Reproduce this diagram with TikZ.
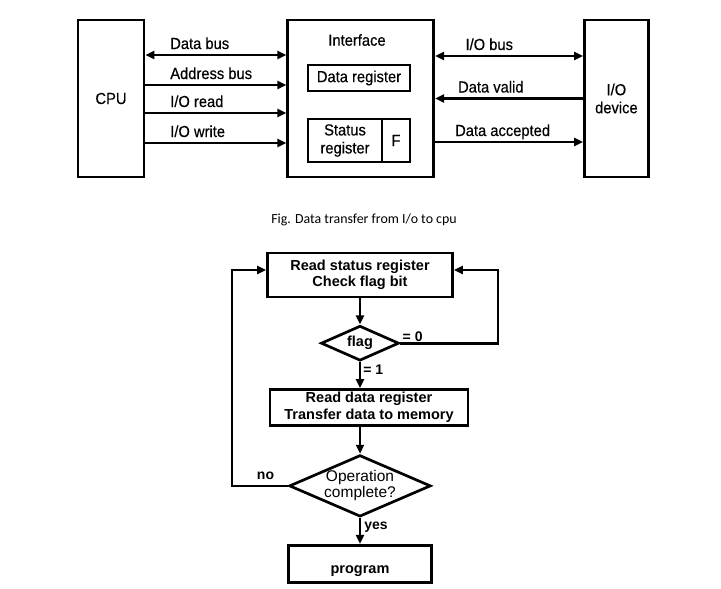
\documentclass[tikz,border=0pt]{standalone}
\usepackage{fontspec}
\setmainfont{Liberation Sans}
\newfontfamily\narrowfont{Liberation Sans}[FakeStretch=0.92, FakeBold=0.4]
\newfontfamily\capfont{Carlito}
\usetikzlibrary{positioning, arrows.meta, shapes.geometric}

\begin{document}
\begin{tikzpicture}[x=1pt, y=-1pt, >={Triangle[length=9pt, width=8pt]}, line width=2.7pt,
    box/.style={draw, inner sep=0pt, align=center, font=\narrowfont\fontsize{16}{18}\selectfont},
    flowbox/.style={box, font=\bfseries\fontsize{14.5}{16.5}\selectfont},
    decide/.style={draw, diamond, inner sep=0pt, align=center},
    lbl/.style={inner sep=1pt, font=\narrowfont\fontsize{16}{18}\selectfont},
    flowlbl/.style={inner sep=1pt, font=\bfseries\fontsize{14}{16}\selectfont}]
    \useasboundingbox (0,0) rectangle (721,589);

    % interface between cpu and i/o device
    \node[box, minimum width=66pt, minimum height=157pt] (cpu) at (111,98.5) {CPU};
    \node[box, minimum width=146pt, minimum height=157pt, right=141pt of cpu] (iface) {};
    \node[box, minimum width=64pt, minimum height=157pt, right=148pt of iface] (iodev) {I/O\\device};
    \node[lbl] (ifname) at (357,40) {Interface};
    \node[box, minimum width=102pt, minimum height=26pt] (dreg) at (359,78) {Data register};
    \node[box, minimum width=74pt, minimum height=43pt] (sreg) at (345,140.5) {Status\\register};
    \node[box, minimum width=28pt, minimum height=43pt, right=-2.7pt of sreg] (fbit) {F};

    \draw[<->] ([yshift=43.5pt]cpu.east) -- node[lbl, pos=0.16, anchor=base west, yshift=6pt] {Data bus} ([yshift=43.5pt]iface.west);
    \draw[->] ([yshift=13.5pt]cpu.east) -- node[lbl, pos=0.16, anchor=base west, yshift=6pt] {Address bus} ([yshift=13.5pt]iface.west);
    \draw[->] ([yshift=-14.5pt]cpu.east) -- node[lbl, pos=0.16, anchor=base west, yshift=6pt] {I/O read} ([yshift=-14.5pt]iface.west);
    \draw[->] ([yshift=-44.5pt]cpu.east) -- node[lbl, pos=0.16, anchor=base west, yshift=6pt] {I/O write} ([yshift=-44.5pt]iface.west);

    \draw[<->] ([yshift=42.5pt]iface.east) -- node[lbl, pos=0.19, anchor=base west, yshift=6pt] {I/O bus} ([yshift=42.5pt]iodev.west);
    \draw[<-] (iface.east) -- node[lbl, pos=0.14, anchor=base west, yshift=6pt] {Data valid} (iodev.west);
    \draw[->] ([yshift=-43.5pt]iface.east) -- node[lbl, pos=0.12, anchor=base west, yshift=6pt] {Data accepted} ([yshift=-43.5pt]iodev.west);

    \node[font=\capfont\fontsize{13.9}{16}\selectfont] (cap) at (364,220) {Fig. Data transfer from I/o to cpu};

    % flowchart
    \node[flowbox, minimum width=185pt, minimum height=44pt] (rs) at (360,275) {Read status register\\Check flag bit};
    \node[decide, aspect=2.2, minimum width=78pt, minimum height=35pt, below=26pt of rs,
          font=\bfseries\fontsize{14.5}{16}\selectfont] (flag) {flag};
    \node[flowbox, minimum width=198pt, minimum height=36pt, below=26pt of flag, xshift=9pt] (rd)
        {Read data register\\Transfer data to memory};
    \node[decide, aspect=2.3, minimum width=140pt, minimum height=61pt, below=27pt of rd, xshift=-9pt,
          font=\fontsize{15.5}{16}\selectfont] (oc) {Operation\\complete?};
    \node[flowbox, minimum width=143pt, minimum height=37pt, text height=19pt, text depth=0pt,
          below=26pt of oc] (prog) {program};

    \coordinate (rturn) at (498,342);
    \coordinate (lturn) at (232,483.5);

    \draw[->] (rs) -- (flag);
    \draw[->] (flag.south) -- node[flowlbl, pos=0.3, anchor=west, xshift=1pt] {= 1} (flag.south |- rd.north);
    \draw[->] (rd.south -| oc.north) -- (oc.north);
    \draw[->] (oc) -- node[flowlbl, pos=0.35, anchor=west, xshift=2pt] {yes} (prog);
    \draw[->] (flag.east) -- node[flowlbl, pos=0, anchor=base west, yshift=2pt] {= 0} (flag.east -| rturn) |- ([yshift=5pt]rs.east);
    \draw[->] (oc.west) -- node[flowlbl, pos=0.4, anchor=base, yshift=6pt] {no} (oc.west -| lturn) |- ([yshift=5pt]rs.west);
\end{tikzpicture}
\end{document}
